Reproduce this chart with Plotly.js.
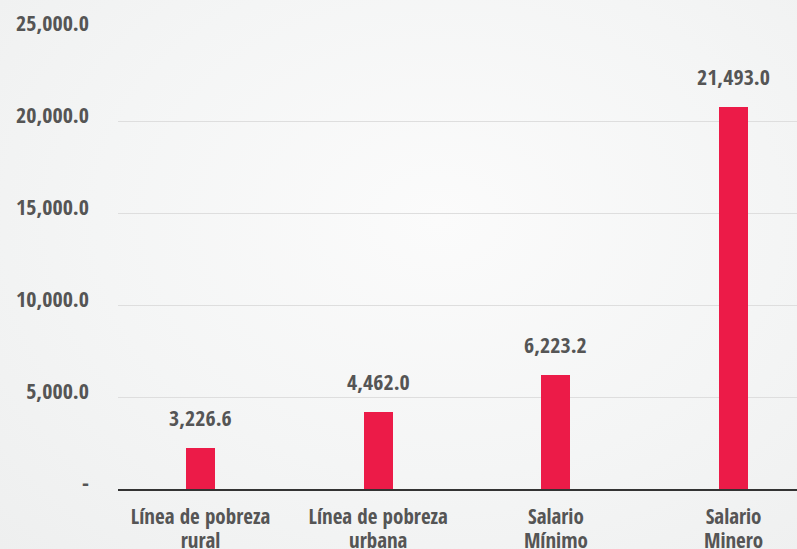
<!DOCTYPE html>
<html>
<head>
<meta charset="utf-8">
<script src="https://cdn.plot.ly/plotly-3.0.1.min.js"></script>
<style>
html,body{margin:0;padding:0;width:797px;height:549px;overflow:hidden;
background:radial-gradient(ellipse at 55% 40%, #fbfbfb 0%, #f4f5f5 55%, #eeefef 100%);}
#chart{width:797px;height:549px;}
</style>
</head>
<body>
<div id="chart"></div>
<script>
const categories = ["Línea de pobreza<br>rural", "Línea de pobreza<br>urbana", "Salario<br>Mínimo", "Salario<br>Minero"];
const barValues = [2213, 4171, 6183, 20758];
const valueLabels = ["3,226.6", "4,462.0", "6,223.2", "21,493.0"];
const yTickVals = [0, 5000, 10000, 15000, 20000, 25000];
const yTickText = ["-", "5,000.0", "10,000.0", "15,000.0", "20,000.0", "25,000.0"];

const FONT = "'Open Sans Condensed', 'Roboto Condensed', sans-serif";
const GREY = "#555555";
const mkFont = (size) => ({family: FONT, size: size, color: GREY, weight: 700});

const idx = categories.map((c, i) => i);
const line1 = categories.map(c => c.split("<br>")[0]);
const line2 = categories.map(c => c.split("<br>")[1] || "");

const trace = {
  type: "bar",
  x: idx,
  y: barValues,
  width: 0.163,
  marker: {color: "#EC1B48"},
  hoverinfo: "none"
};
// invisible helper trace so the second x axis (second label line) is drawn
const helper = {
  type: "scatter", mode: "markers", x: idx, y: barValues.map(() => null),
  xaxis: "x2", yaxis: "y", hoverinfo: "none", showlegend: false
};

const annotations = valueLabels.map((t, i) => ({
  x: i, y: barValues[i], xref: "x", yref: "y",
  text: t, showarrow: false,
  yanchor: "middle", yshift: 31,
  font: mkFont(22)
}));

const xRange = [-0.4644, 3.357];
const layout = {
  width: 797, height: 549,
  margin: {l: 118, r: 0, t: 29, b: 60, pad: 0},
  paper_bgcolor: "rgba(0,0,0,0)",
  plot_bgcolor: "rgba(0,0,0,0)",
  showlegend: false,
  bargap: 0,
  xaxis: {
    range: xRange,
    tickvals: idx,
    ticktext: line1,
    tickfont: mkFont(21),
    tickangle: 0,
    showgrid: false, zeroline: false,
    showline: true, linecolor: "#333333", linewidth: 1.5,
    ticks: "", ticklabelstandoff: 8,
    fixedrange: true
  },
  xaxis2: {
    range: xRange,
    overlaying: "x", side: "bottom", anchor: "y",
    tickvals: idx,
    ticktext: line2,
    tickfont: mkFont(21),
    tickangle: 0,
    showgrid: false, zeroline: false, showline: false,
    ticks: "", ticklabelstandoff: 37,
    fixedrange: true
  },
  yaxis: {
    range: [0, 25000],
    tickvals: yTickVals,
    ticktext: yTickText,
    tickfont: mkFont(22),
    showgrid: true, gridcolor: "#dedede", gridwidth: 1,
    zeroline: false, showline: false,
    ticks: "", ticklabelstandoff: 28, ticklabelshift: -6,
    fixedrange: true
  },
  annotations: annotations
};

Plotly.newPlot("chart", [trace, helper], layout, {displayModeBar: false, staticPlot: true});
</script>
</body>
</html>
